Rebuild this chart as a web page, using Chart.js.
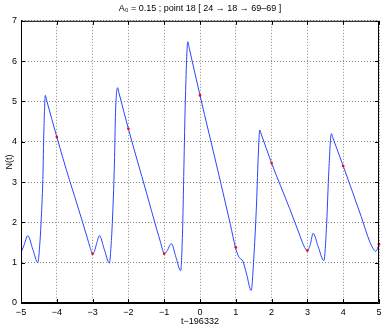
<!DOCTYPE html>
<html>
<head>
<meta charset="utf-8">
<script src="https://cdn.jsdelivr.net/npm/chart.js@4/dist/chart.umd.min.js"></script>
<style>
  body { margin: 0; background: #fff; }
  canvas { display: block; }
</style>
</head>
<body>
<canvas id="chart-n" width="386" height="327"></canvas>
<script>
// curve N(t)
const tValues = [
  -5, -4.92, -4.81, -4.67, -4.53, -4.48, -4.44, -4.39, -4.36, -4.32, -4.29,
  -4, -3.65, -3.5, -3.3, -3.15, -3.07, -3, -2.95, -2.88, -2.81,
  -2.67, -2.53, -2.49, -2.45, -2.39, -2.36, -2.3, -2.26, -2, -1.5, -1.2,
  -1.1, -1.05, -1, -0.93, -0.8, -0.67, -0.54, -0.49, -0.45, -0.41,
  -0.34, -0.3, 0, 0.5, 0.85, 0.99, 1.08, 1.2, 1.3, 1.43, 1.5,
  1.58, 1.63, 1.67, 1.71, 2, 2.5, 2.8, 2.9, 3, 3.08, 3.16,
  3.3, 3.46, 3.53, 3.6, 3.67, 3.71, 4, 4.5, 4.75, 4.85, 4.9,
  4.95, 5
];
const nValues = [
  1.25, 1.42, 1.67, 1.33, 1.0, 1.4, 1.99, 3.06, 4.3, 5.15, 5.05,
  4.12, 3.06, 2.64, 2.06, 1.62, 1.38, 1.22, 1.28, 1.5, 1.67,
  1.32, 0.99, 1.35, 1.98, 3.47, 4.72, 5.34, 5.2, 4.32, 2.75, 1.8,
  1.5, 1.33, 1.22, 1.28, 1.47, 1.13, 0.8, 1.69, 3.35, 5.0,
  6.48, 6.32, 5.15, 3.28, 1.94, 1.38, 1.15, 1.03, 0.72, 0.31, 1.07,
  2.48, 3.72, 4.29, 4.19, 3.47, 2.35, 1.65, 1.42, 1.3, 1.45, 1.73,
  1.4, 1.05, 1.82, 3.31, 4.2, 4.1, 3.4, 2.15, 1.5, 1.33, 1.28,
  1.33, 1.46
];

// red sample points
const markT = [-4, -3, -2, -1, 0, 1, 2, 3, 4, 5];
const markN = [4.12, 1.22, 4.32, 1.22, 5.15, 1.38, 3.47, 1.3, 3.4, 1.46];

const xTicks = [-5, -4, -3, -2, -1, 0, 1, 2, 3, 4, 5];
const yTicks = [0, 1, 2, 3, 4, 5, 6, 7];

const titleText = "A\u2080 = 0.15 ; point 18 [ 24 \u2192 18 \u2192 69\u201369 ]";
const xTitle = "t\u2212196332";
const yTitle = "N(t)";

const fam = "'Liberation Sans', Arial, sans-serif";
Chart.defaults.font.family = fam;
Chart.defaults.font.size = 9;
Chart.defaults.color = "#000";

const minus = v => (v < 0 ? "\u2212" + Math.abs(v) : String(v));

// matlab style box + ticks pointing inward
const boxPlugin = {
  id: "box",
  afterDraw(chart) {
    const ctx = chart.ctx;
    const a = chart.chartArea;
    const xs = chart.scales.x, ys = chart.scales.y;
    const len = 4;
    ctx.save();
    ctx.strokeStyle = "#000";
    ctx.lineWidth = 1;
    ctx.beginPath();
    ctx.rect(a.left + 0.5, a.top + 0.5, a.right - a.left - 1, a.bottom - a.top - 1);
    xTicks.forEach(v => {
      const px = Math.round(xs.getPixelForValue(v)) + 0.5;
      ctx.moveTo(px, a.bottom); ctx.lineTo(px, a.bottom - len);
      ctx.moveTo(px, a.top); ctx.lineTo(px, a.top + len);
    });
    yTicks.forEach(v => {
      const py = Math.round(ys.getPixelForValue(v)) + 0.5;
      ctx.moveTo(a.left, py); ctx.lineTo(a.left + len, py);
      ctx.moveTo(a.right, py); ctx.lineTo(a.right - len, py);
    });
    ctx.stroke();
    ctx.restore();
  }
};

const ctxN = document.querySelector("#chart-n").getContext("2d");

const chartN = new Chart(ctxN, {
  type: "line",
  data: {
    datasets: [
      {
        data: tValues.map((t, i) => ({ x: t, y: nValues[i] })),
        borderColor: "rgb(40,70,255)",
        borderWidth: 1,
        pointRadius: 0,
        cubicInterpolationMode: "monotone",
        fill: false,
        order: 1
      },
      {
        data: markT.map((t, i) => ({ x: t, y: markN[i] })),
        showLine: false,
        pointStyle: "circle",
        pointRadius: 1.3,
        pointBackgroundColor: "#f00",
        pointBorderColor: "#f00",
        pointBorderWidth: 0,
        clip: false,
        order: 0
      }
    ]
  },
  options: {
    responsive: false,
    animation: false,
    layout: { padding: { left: 0, right: 7, top: 0, bottom: 0 } },
    plugins: {
      legend: { display: false },
      tooltip: { enabled: false },
      title: {
        display: true,
        text: titleText,
        fullSize: false,
        font: { size: 9, weight: "normal" },
        padding: { top: 3, bottom: 7 }
      }
    },
    scales: {
      x: {
        type: "linear",
        min: -5,
        max: 5,
        afterFit: s => { s.height = 24; },
        afterBuildTicks: s => { s.ticks = xTicks.map(v => ({ value: v })); },
        ticks: { callback: minus, padding: 4, maxRotation: 0 },
        grid: { color: "#888", drawTicks: false },
        border: { display: true, color: "#000", dash: [1, 2] },
        title: { display: true, text: xTitle, padding: { top: 0, bottom: 0 } }
      },
      y: {
        min: 0,
        max: 7,
        afterFit: s => { s.width = 21; },
        afterBuildTicks: s => { s.ticks = yTicks.map(v => ({ value: v })); },
        ticks: { padding: 4 },
        grid: { color: "#888", drawTicks: false },
        border: { display: true, color: "#000", dash: [1, 2] },
        title: { display: true, text: yTitle, padding: { top: 4, bottom: 0 } }
      }
    }
  },
  plugins: [boxPlugin]
});
</script>
</body>
</html>
